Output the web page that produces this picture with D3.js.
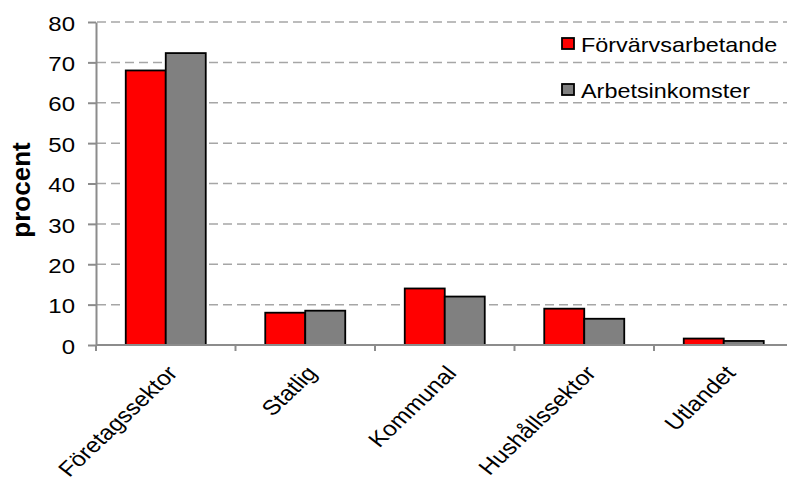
<!DOCTYPE html>
<html lang="sv">
<head>
<meta charset="UTF-8"/>
<title>Förvärvsarbetande och arbetsinkomster per sektor</title>
<script src="https://cdn.jsdelivr.net/npm/d3@7/dist/d3.min.js"></script>
<style>
body { margin: 0; background: #fff; }
text { font-family: "Liberation Sans", Arial, sans-serif; fill: #000; }
</style>
</head>
<body>
<svg id="chart"></svg>
<script>
// data
var categories = ["Företagssektor", "Statlig", "Kommunal", "Hushållssektor", "Utlandet"];
var seriesNames = ["Förvärvsarbetande", "Arbetsinkomster"];
var forvarvsarbetande = [68, 8, 14, 9, 1.6];
var arbetsinkomster = [72.3, 8.5, 12, 6.5, 1];
var yTicks = [0, 10, 20, 30, 40, 50, 60, 70, 80];
var colors = ["#ff0000", "#808080"];

var width = 787, height = 483;
var stretch = 1.17;   // the original picture is a bit wider than it is tall

var svg = d3.select("#chart")
  .attr("width", width)
  .attr("height", height);

var x = d3.scaleBand().domain(categories).range([96, 793.5]);
var xSeries = d3.scaleBand().domain(seriesNames).range([0, 80]);
var y = d3.scaleLinear().domain([0, 80]).range([345, 22]);
var axisColor = "#8c8c8c";

// dashed gridlines
svg.append("g").attr("class", "grid")
  .selectAll("line")
  .data(yTicks.slice(1))
  .enter().append("line")
  .attr("x1", 97).attr("x2", width)
  .attr("y1", function(d) { return y(d); })
  .attr("y2", function(d) { return y(d); })
  .attr("stroke", "#a6a6a6")
  .attr("stroke-width", 1.5)
  .attr("stroke-dasharray", "9,5");

// bars
var rows = categories.map(function(c, i) {
  return { cat: c, values: [forvarvsarbetande[i], arbetsinkomster[i]] };
});
var offset = (x.bandwidth() - 80) / 2;
var groups = svg.append("g").attr("class", "bars")
  .selectAll("g")
  .data(rows)
  .enter().append("g")
  .attr("transform", function(d) { return "translate(" + (x(d.cat) + offset) + ",0)"; });

groups.selectAll("rect")
  .data(function(d) { return d.values.map(function(v, j) { return { name: seriesNames[j], v: v, j: j }; }); })
  .enter().append("rect")
  .attr("x", function(d) { return xSeries(d.name); })
  .attr("width", xSeries.bandwidth())
  .attr("y", function(d) { return y(d.v); })
  .attr("height", function(d) { return y(0) - y(d.v); })
  .attr("fill", function(d) { return colors[d.j]; })
  .attr("stroke", "#000")
  .attr("stroke-width", 1.8);

// y axis
var yAxis = svg.append("g")
  .attr("transform", "translate(96,0)")
  .call(d3.axisLeft(y).tickValues(yTicks).tickSize(8).tickSizeOuter(0));
yAxis.select(".domain").attr("stroke", axisColor).attr("stroke-width", 2);
yAxis.selectAll(".tick line").attr("stroke", axisColor).attr("stroke-width", 2);
yAxis.selectAll(".tick text")
  .attr("x", null)
  .attr("dy", "0.4em")
  .attr("transform", "translate(-21,0) scale(" + stretch + ",1)")
  .style("font-size", "20.5px")
  .style("font-family", '"Liberation Sans", Arial, sans-serif')
  .attr("fill", "#000");

// x axis: line with ticks at category boundaries
var bounds = categories.map(function(c) { return x(c); }).concat([x.range()[1]]);
var xAxis = svg.append("g").attr("class", "x-axis");
xAxis.append("line")
  .attr("x1", 96).attr("x2", width)
  .attr("y1", y(0)).attr("y2", y(0))
  .attr("stroke", axisColor).attr("stroke-width", 2);
xAxis.selectAll("line.tick")
  .data(bounds)
  .enter().append("line")
  .attr("class", "tick")
  .attr("x1", function(d) { return d; }).attr("x2", function(d) { return d; })
  .attr("y1", y(0)).attr("y2", y(0) + 6)
  .attr("stroke", axisColor).attr("stroke-width", 2);

xAxis.selectAll("text")
  .data(categories)
  .enter().append("text")
  .attr("text-anchor", "end")
  .attr("transform", function(d) {
    return "translate(" + (x(d) + x.bandwidth() / 2 + 13) + ",374) scale(" + stretch + ",1) rotate(-48)";
  })
  .style("font-size", "21px")
  .text(function(d) { return d; });

// y title
svg.append("text")
  .attr("text-anchor", "middle")
  .attr("transform", "translate(30,190) rotate(-90)")
  .style("font-size", "26px")
  .style("font-weight", "bold")
  .text("procent");

// legend
var legend = svg.append("g").attr("class", "legend")
  .selectAll("g")
  .data(seriesNames)
  .enter().append("g")
  .attr("transform", function(d, i) { return "translate(562," + (38 + i * 46) + ")"; });
legend.append("rect")
  .attr("width", 12).attr("height", 11)
  .attr("fill", function(d, i) { return colors[i]; })
  .attr("stroke", "#000").attr("stroke-width", 1.8);
legend.append("text")
  .attr("transform", "translate(19,13.7) scale(" + stretch + ",1)")
  .style("font-size", "20px")
  .text(function(d) { return d; });
</script>
</body>
</html>
